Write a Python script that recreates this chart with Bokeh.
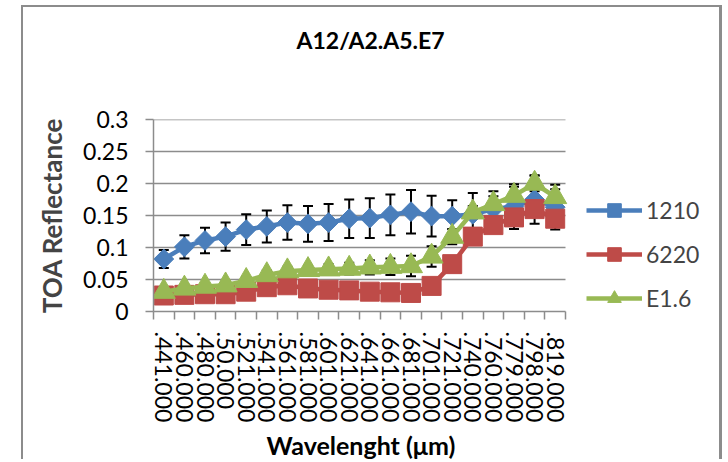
import numpy as np
from bokeh.plotting import figure
from bokeh.models import (ColumnDataSource, Range1d, FixedTicker, PrintfTickFormatter,
                          Whisker, TeeHead, Legend, LegendItem, Title)
from bokeh.embed import file_html
from bokeh.resources import INLINE

# ---- data ----
wavelength_labels = [".441.000", ".460.000", ".480.000", ".50.000", ".521.000", ".541.000",
                     ".561.000", ".581.000", ".601.000", ".621.000", ".641.000", ".661.000",
                     ".681.000", ".701.000", ".721.000", ".740.000", ".760.000", ".779.000",
                     ".798.000", ".819.000"]
refl_1210 = [0.082, 0.101, 0.111, 0.117, 0.128, 0.133, 0.139, 0.137, 0.139, 0.145,
             0.146, 0.151, 0.156, 0.149, 0.149, 0.152, 0.160, 0.164, 0.175, 0.163]
err_1210 = [0.014, 0.018, 0.020, 0.022, 0.024, 0.025, 0.027, 0.028, 0.029, 0.030,
            0.031, 0.032, 0.034, 0.032, 0.025, 0.033, 0.028, 0.035, 0.038, 0.035]
refl_6220 = [0.025, 0.026, 0.027, 0.027, 0.031, 0.038, 0.041, 0.036, 0.034, 0.033,
             0.031, 0.030, 0.029, 0.040, 0.074, 0.117, 0.135, 0.147, 0.160, 0.145]
refl_e16 = [0.031, 0.036, 0.039, 0.041, 0.048, 0.057, 0.063, 0.065, 0.066, 0.067,
            0.069, 0.070, 0.071, 0.086, 0.117, 0.155, 0.168, 0.181, 0.200, 0.179]
err_e16 = [0.004, 0.005, 0.005, 0.006, 0.006, 0.007, 0.007, 0.007, 0.008, 0.009,
           0.011, 0.013, 0.016, 0.016, 0.012, 0.010, 0.012, 0.014, 0.012, 0.012]
y_ticks = [0, 0.05, 0.1, 0.15, 0.2, 0.25, 0.3]
series_names = ["1210", "6220", "E1.6"]

FONT = "Lato"
GRID = "#8c8c8c"
BLUE = "#4a7ebb"
RED = "#be4b48"
GREEN = "#98b954"

n = len(wavelength_labels)
xs = [i + 0.5 for i in range(n)]

src = ColumnDataSource(dict(
    x=xs,
    b=refl_1210, b_lo=[v - e for v, e in zip(refl_1210, err_1210)],
    b_hi=[v + e for v, e in zip(refl_1210, err_1210)],
    r=refl_6220,
    g=refl_e16, g_lo=[v - e for v, e in zip(refl_e16, err_e16)],
    g_hi=[v + e for v, e in zip(refl_e16, err_e16)],
))

# layout (pixels)
W, H = 701, 454
ML, MR, MT, MB = 130, 12, 112, 149
AXIS_PX = 412                     # width of the category axis
FRAME_PX = W - ML - MR            # frame also hosts the legend to the right
x_end = n * FRAME_PX / AXIS_PX

p = figure(width=W, height=H, output_backend="svg", toolbar_location=None,
           x_range=Range1d(0, x_end), y_range=Range1d(y_ticks[0], y_ticks[-1]),
           min_border_left=ML, min_border_right=MR, min_border_top=MT, min_border_bottom=MB)
p.margin = (5, 0, 0, 21)
p.styles = {"border-left": "2px solid #8c8c8c", "border-top": "2px solid #8c8c8c",
            "border-right": "3px solid #8c8c8c"}
p.outline_line_color = None
p.background_fill_color = "white"
p.border_fill_color = "white"

# title: spacer first (nearest the frame), then the real title above it
p.title.text = ""
p.add_layout(Title(text=" ", text_font_size="12px", standoff=45), "above")
p.add_layout(Title(text="A12/A2.A5.E7", align="left", offset=143, standoff=10,
                   text_font=FONT, text_font_style="bold", text_font_size="23px",
                   text_color="black"), "above")

# x axis
xa = p.xaxis[0]
xa.bounds = (0, n)
xa.ticker = FixedTicker(ticks=xs, minor_ticks=list(range(n + 1)))
xa.major_label_overrides = {x: lab for x, lab in zip(xs, wavelength_labels)}
xa.major_label_orientation = "vertical"
xa.major_tick_line_color = None
xa.major_tick_out = 0
xa.major_tick_in = 0
xa.minor_tick_out = 8
xa.minor_tick_in = 0
xa.minor_tick_line_color = GRID
xa.minor_tick_line_width = 1.5
xa.axis_line_color = GRID
xa.axis_line_width = 1.5
xa.major_label_standoff = 12
xa.major_label_text_font = FONT
xa.major_label_text_font_size = "23px"
xa.major_label_text_color = "black"
p.add_layout(Title(text="Wavelenght (\u03bcm)", align="left", offset=113, standoff=4,
                   text_font=FONT, text_font_style="bold", text_font_size="25px",
                   text_color="black"), "below")

# y axis
ya = p.yaxis[0]
ya.ticker = FixedTicker(ticks=y_ticks, minor_ticks=[])
ya.formatter = PrintfTickFormatter(format="%g")
ya.major_tick_out = 8
ya.major_tick_in = 0
ya.major_tick_line_color = GRID
ya.major_tick_line_width = 1.5
ya.minor_tick_line_color = None
ya.axis_line_color = GRID
ya.axis_line_width = 1.5
ya.major_label_standoff = 17
ya.major_label_text_font = FONT
ya.major_label_text_font_size = "23px"
ya.major_label_text_color = "black"
ya.axis_label = "TOA Reflectance"
ya.axis_label_text_font = FONT
ya.axis_label_text_font_style = "bold"
ya.axis_label_text_font_size = "26px"
ya.axis_label_standoff = 12

# horizontal gridlines only across the category axis
p.xgrid.grid_line_color = None
p.ygrid.grid_line_color = None
grid_src = ColumnDataSource(dict(y=y_ticks[1:], x0=[0] * (len(y_ticks) - 1),
                                 x1=[n] * (len(y_ticks) - 1)))
p.segment(x0="x0", x1="x1", y0="y", y1="y", source=grid_src, line_color=GRID,
          line_width=1.5, level="underlay")

# error bars (behind markers)
head = dict(size=10, line_color="black", line_width=2)
wb = Whisker(source=src, base="x", lower="b_lo", upper="b_hi", line_color="black", line_width=2,
             upper_head=TeeHead(**head), lower_head=TeeHead(**head), level="underlay")
p.add_layout(wb)
wg = Whisker(source=src, base="x", lower="g_lo", upper="g_hi", line_color="black", line_width=2,
             upper_head=TeeHead(**head), lower_head=TeeHead(**head), level="underlay")
p.add_layout(wg)

lb = p.line("x", "b", source=src, line_color=BLUE, line_width=4.5)
mb = p.scatter("x", "b", source=src, marker="square", angle=np.pi / 4, size=14,
               fill_color=BLUE, line_color=BLUE)

lr = p.line("x", "r", source=src, line_color=RED, line_width=4.5)
mr = p.scatter("x", "r", source=src, marker="square", size=19, fill_color=RED, line_color=RED)

lg = p.line("x", "g", source=src, line_color=GREEN, line_width=4.5)
mg = p.scatter("x", "g", source=src, marker="triangle", size=23, fill_color=GREEN, line_color=GREEN)

legend = Legend(items=[LegendItem(label=series_names[0], renderers=[lb, mb]),
                       LegendItem(label=series_names[1], renderers=[lr, mr]),
                       LegendItem(label=series_names[2], renderers=[lg, mg])],
                location=(433, -4), border_line_color=None,
                background_fill_alpha=0, padding=0, margin=0, spacing=10,
                glyph_width=56, glyph_height=34, label_standoff=4,
                label_text_font=FONT, label_text_font_size="23px", label_height=20)
p.add_layout(legend, "center")

open("out.html", "w").write(file_html(p, INLINE))
